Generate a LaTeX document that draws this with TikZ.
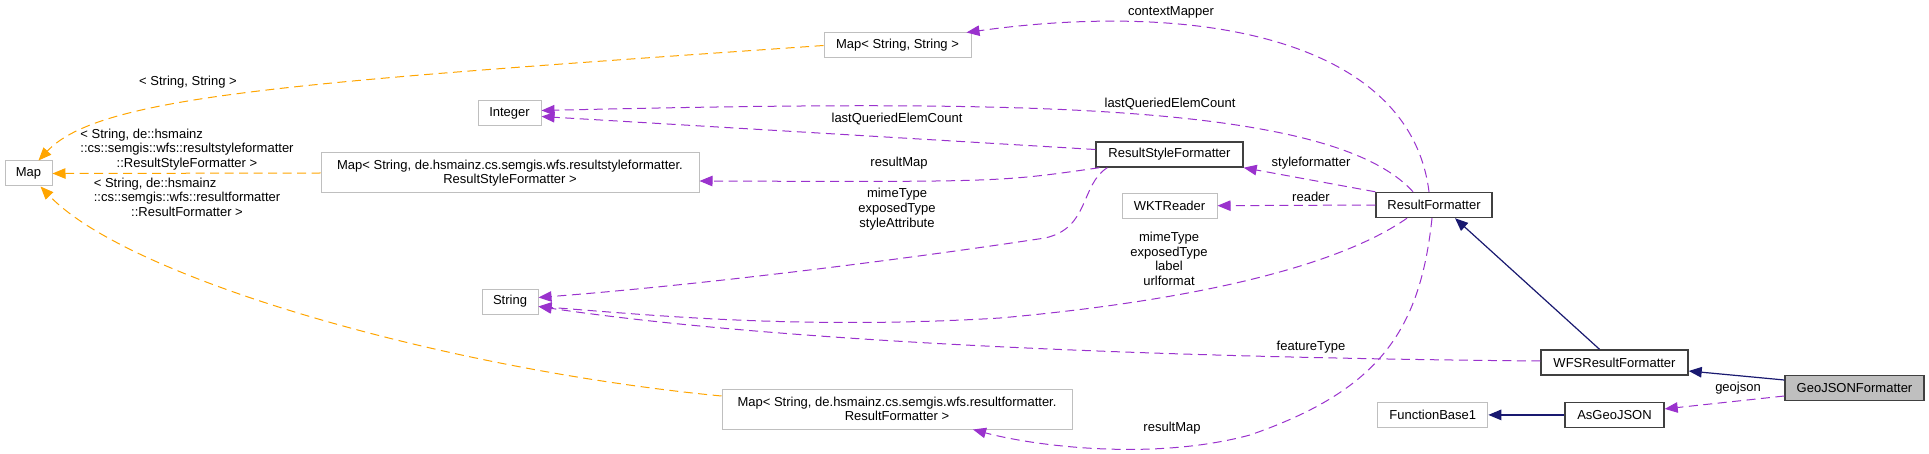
\documentclass[tikz,border=0pt]{standalone}
\usepackage{fontspec}
\setmainfont{Liberation Sans}
\usepackage{tikz}
\usetikzlibrary{positioning,arrows.meta}

\definecolor{tplorange}{HTML}{FFA500}
\definecolor{usepurple}{HTML}{9A32CD}
\definecolor{inhnavy}{HTML}{191970}
\definecolor{extgray}{HTML}{BFBFBF}
\definecolor{clsgray}{HTML}{404040}
\definecolor{selfill}{HTML}{BFBFBF}

\begin{document}
\begin{tikzpicture}[
  x=1pt, y=1pt,
  font=\fontsize{13}{14.7}\selectfont,
  >={Triangle[length=13pt,width=10.5pt]},
  ext/.style={draw=extgray, line width=1pt, align=center, inner sep=2pt,
              minimum height=25pt, minimum width=#1},
  cls/.style={ext=#1, draw=clsgray, line width=1.4pt},
  usearr/.style={->, usepurple, line width=1pt, dash pattern=on 9pt off 5.5pt},
  tplarr/.style={->, tplorange, line width=1pt, dash pattern=on 9pt off 5.5pt},
  inharr/.style={->, inhnavy, line width=1.2pt},
  lbl/.style={inner sep=0pt, align=center},
]
\useasboundingbox (0,0) rectangle (1929,-454);

%% ===== CLASSES =====
\node[ext=47pt] (map) at (28.5,-173.5) {Map};
\node[ext=147pt] (mapss) at (897.5,-45.5) {Map< String, String >};
\node[ext=63pt] (integer) at (509.5,-113.5) {Integer};
\node[ext=378pt, minimum height=40pt] (maprsf) at (510,-173)
    {Map< String, de.hsmainz.cs.semgis.wfs.resultstyleformatter.\\ResultStyleFormatter >};
\node[ext=56pt] (string) at (510,-301.5) {String};
\node[ext=350pt, minimum height=40pt] (maprf) at (897,-409)
    {Map< String, de.hsmainz.cs.semgis.wfs.resultformatter.\\ResultFormatter >};

\node[cls=147pt] (rsf) at (1169.5,-154.5) {ResultStyleFormatter};
\node[ext=95pt, below=25pt of rsf] (wkt) {WKTReader};
\node[cls=116pt] (rf) at (1434,-205) {ResultFormatter};

\node[cls=147pt] (wfs) at (1614.5,-362.5) {WFSResultFormatter};
\node[cls=99pt, below=26pt of wfs] (agj) {AsGeoJSON};
\node[ext=110pt, left=76pt of agj] (fb1) {FunctionBase1};
\node[cls=139pt, fill=selfill] (gjf) at (1854.5,-388) {GeoJSONFormatter};

%% ===== TEMPLATE EDGES =====
\draw[tplarr] (mapss.west) .. controls (300,-82) and (100,-95) .. ([xshift=10pt]map.north);
\draw[tplarr] (maprsf.west) -- (map.east);
\draw[tplarr] ([yshift=13pt]maprf.west) .. controls (450,-370) and (130,-280) .. ([xshift=12pt]map.south);

\node[lbl] (lss) at (188,-82) {< String, String >};
\node[lbl] (lrsf) at (187,-150)
    {\begin{tabular}{@{}l@{}}
       < String, de::hsmainz\\
       \multicolumn{1}{@{}c@{}}{::cs::semgis::wfs::resultstyleformatter}\\
       \multicolumn{1}{@{}c@{}}{::ResultStyleFormatter >}
     \end{tabular}};
\node[lbl] (lrf) at (187,-199)
    {\begin{tabular}{@{}l@{}}
       < String, de::hsmainz\\
       \multicolumn{1}{@{}c@{}}{::cs::semgis::wfs::resultformatter}\\
       \multicolumn{1}{@{}c@{}}{::ResultFormatter >}
     \end{tabular}};

%% ===== USAGE EDGES =====
\draw[usearr] ([xshift=-5pt]rf.north) .. controls (1410,-40) and (1200,0) .. ([xshift=-5pt]mapss.north east);
\draw[usearr] ([xshift=-21pt]rf.north) .. controls (1330,-100) and (1000,-100) .. ([yshift=3pt]integer.east);
\draw[usearr] ([yshift=5pt]rsf.west) -- ([yshift=-3pt]integer.east);
\draw[usearr] ([xshift=4pt]rsf.south west) .. controls (1000,-182) .. ([yshift=-8pt]maprsf.east);
\draw[usearr] ([xshift=12pt]rsf.south west) .. controls (1080,-185) and (1090,-228) .. (1045,-238)
    .. controls (900,-260) and (700,-285) .. ([yshift=4pt]string.east);
\draw[usearr] (rf.north west) -- (rsf.south east);
\draw[usearr] (rf.west) -- (wkt.east);
\draw[usearr] ([xshift=-27pt]rf.south) .. controls (1340,-265) and (1200,-300) .. (1000,-318)
    .. controls (800,-330) and (650,-315) .. ([yshift=-5pt]string.east);
\draw[usearr] ([yshift=1.5pt]wfs.west) .. controls (1200,-358) and (800,-345) .. ([yshift=-5pt]string.east);
\draw[usearr] ([xshift=-2pt]rf.south) .. controls (1420,-330) and (1380,-390) .. (1250,-435)
    .. controls (1150,-462) and (1030,-445) .. ([xshift=76pt]maprf.south);
\draw[usearr] ([yshift=-8pt]gjf.west) -- ([yshift=6pt]agj.east);

\node[lbl] (lctx) at (1171,-12) {contextMapper};
\node[lbl] (lqec1) at (1170,-104) {lastQueriedElemCount};
\node[lbl] (lqec2) at (897,-119) {lastQueriedElemCount};
\node[lbl] (lrm1) at (899,-163) {resultMap};
\node[lbl] (lmime1) at (897,-209) {mimeType\\exposedType\\styleAttribute};
\node[lbl] (lsf) at (1311,-163) {styleformatter};
\node[lbl] (lrd) at (1311,-197) {reader};
\node[lbl] (lmime2) at (1169,-259) {mimeType\\exposedType\\label\\urlformat};
\node[lbl] (lft) at (1311,-347) {featureType};
\node[lbl] (lrm2) at (1172,-428) {resultMap};
\node[lbl] (lgj) at (1738,-388) {geojson};

%% ===== INHERITANCE =====
\draw[inharr] ([xshift=-15pt]wfs.north) -- ([xshift=21pt]rf.south);
\draw[inharr] ([yshift=8pt]gjf.west) -- ([yshift=-8.5pt]wfs.east);
\draw[inharr] (agj.west) -- (fb1.east);

\end{tikzpicture}
\end{document}
